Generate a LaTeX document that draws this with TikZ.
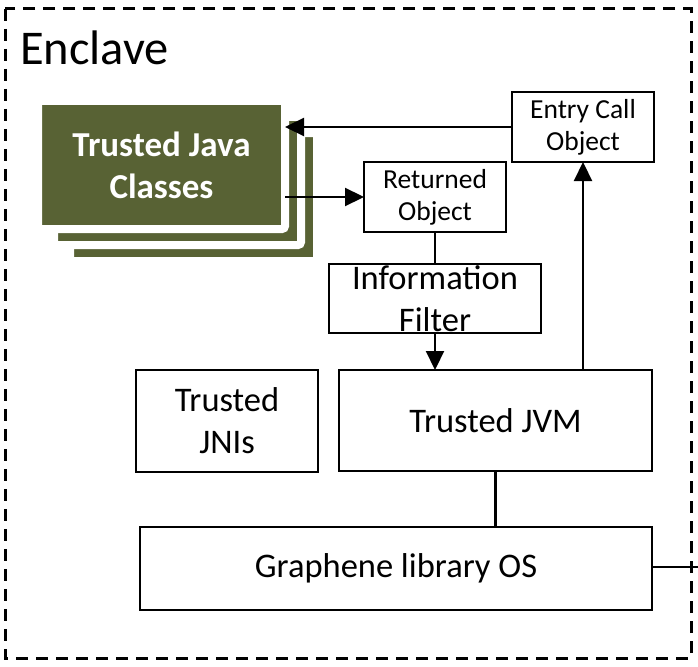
\documentclass[tikz,border=0pt]{standalone}
\usepackage{fontspec}
\setmainfont{Carlito}
\usetikzlibrary{arrows.meta}
\definecolor{javagreen}{RGB}{88,98,52}
\tikzset{
  box/.style={draw, line width=2pt, align=center, inner sep=0pt, outer sep=0pt, font=\fontsize{34.5}{42}\selectfont},
  smallbox/.style={box, minimum width=142pt, minimum height=70pt, font=\fontsize{27.5}{32}\selectfont},
  layer/.style={fill=javagreen, draw=white, line width=8pt, rounded corners=3pt, outer sep=0pt},
  conn/.style={line width=2.2pt},
  arr/.style={conn, -{Triangle[length=19pt,width=18pt]}},
}
\begin{document}
\begin{tikzpicture}[x=1pt, y=-1pt]
  \useasboundingbox (0,0) rectangle (698,666);
  \draw[line width=3pt, dash pattern=on 12pt off 8pt] (5,9) rectangle (691,658);
  \node[anchor=base west, inner sep=0pt, font=\fontsize{48.5}{58}\selectfont] (enclave) at (20,65) {Enclave};
  % stacked class boxes behind the front one
  \foreach \d in {32,16}
    \draw[layer] (38+\d,101+\d) rectangle (285+\d,229+\d);
  \node[layer, minimum width=247pt, minimum height=128pt, align=center, text=white,
        font=\fontsize{35}{42}\selectfont\bfseries] (tjc) at (161.5,165) {Trusted Java\\Classes};
  \node[smallbox] (entry) at (583,127) {Entry Call\\Object};
  \node[smallbox] (ret) at (435,197) {Returned\\Object};
  \node[box, minimum width=212pt, minimum height=69pt] (filter) at (435,298.5) {Information\\Filter};
  \node[box, minimum width=313pt, minimum height=101pt] (jvm) at (495.5,420.5) {Trusted JVM};
  \node[box, minimum width=182pt, minimum height=102pt] (jni) at (227,421) {Trusted\\JNIs};
  \node[box, minimum width=512pt, minimum height=83pt] (graphene) at (396,568.5) {Graphene library OS};
  \coordinate (exit) at (698,567);
  \draw[arr] (entry.west) -- (tjc.east |- entry.west);
  \draw[arr] (tjc.east |- ret.west) -- (ret.west);
  \draw[conn] (ret.south) -- (filter.north);
  \draw[arr] (filter.south) -- (jvm.north -| filter.south);
  \draw[arr] (jvm.north -| entry.south) -- (entry.south);
  \draw[conn] (jvm.south) -- (graphene.north -| jvm.south);
  \draw[conn] (graphene.east |- exit) -- (exit);
\end{tikzpicture}
\end{document}
